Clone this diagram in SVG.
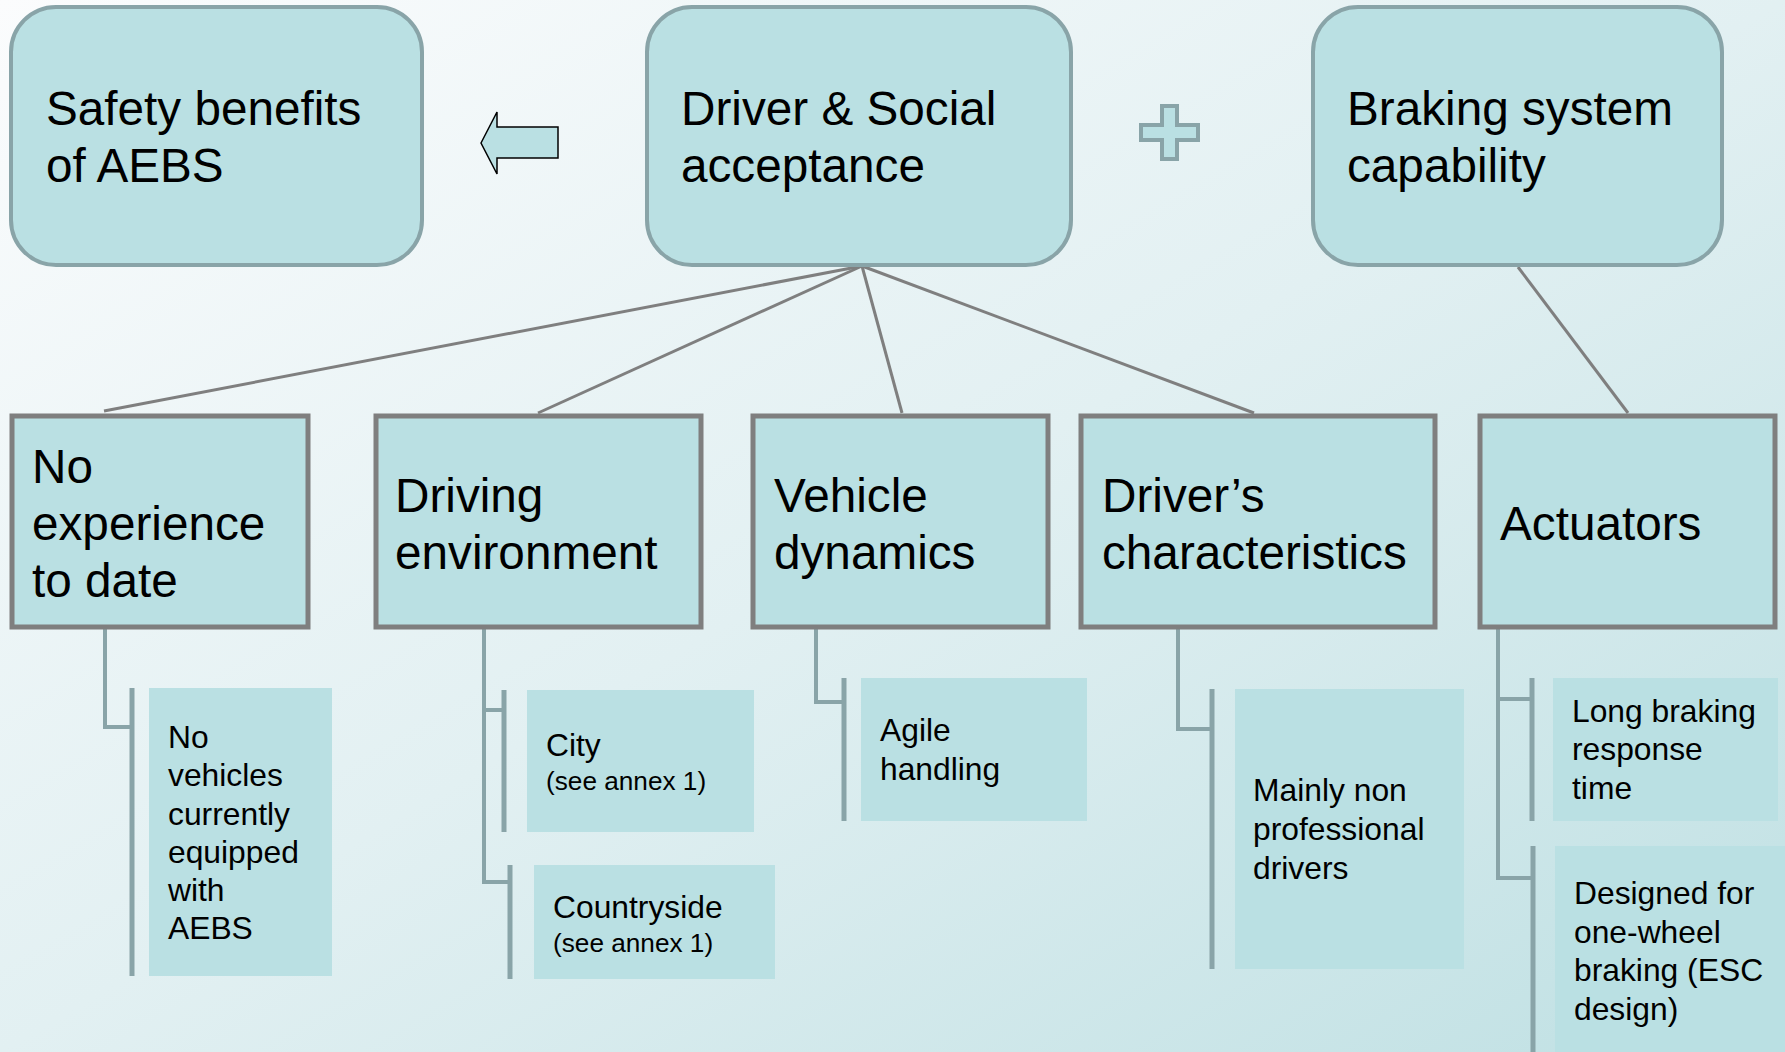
<svg xmlns="http://www.w3.org/2000/svg" width="1785" height="1052" viewBox="0 0 1785 1052">
<defs>
<linearGradient id="bg" x1="0" y1="0" x2="1" y2="1">
<stop offset="0" stop-color="#fbfcfd"/>
<stop offset="0.5" stop-color="#e2f0f2"/>
<stop offset="1" stop-color="#bfe0e3"/>
</linearGradient>
<style>
.rbox{fill:#bae0e3;stroke:#89a4a8;stroke-width:4}
.sbox{fill:#bae0e3;stroke:#7f7f7f;stroke-width:5}
.leaf{fill:#bae0e3}
.big{font-family:"Liberation Sans",Arial,sans-serif;font-size:47.7px;fill:#000}
.small{font-family:"Liberation Sans",Arial,sans-serif;font-size:31.8px;fill:#000}
.tiny{font-family:"Liberation Sans",Arial,sans-serif;font-size:26.2px;fill:#000}
.edge{stroke:#7f7f7f;stroke-width:3;fill:none}
.tree{stroke:#89a4a8;stroke-width:4;fill:none}
.brk{stroke:#89a4a8;stroke-width:5;fill:none}
</style>
</defs>
<rect x="0" y="0" width="1785" height="1052" fill="url(#bg)"/>

<g id="connectors">
<line class="edge" x1="862" y1="266" x2="104" y2="411"/>
<line class="edge" x1="862" y1="266" x2="538" y2="413"/>
<line class="edge" x1="862" y1="266" x2="902" y2="413"/>
<line class="edge" x1="862" y1="266" x2="1254" y2="413"/>
<line class="edge" x1="1518" y1="267" x2="1628" y2="413"/>
<polyline class="tree" points="105,629 105,727 132,727"/>
<polyline class="tree" points="484,629 484,882 510,882"/>
<line class="tree" x1="484" y1="710" x2="504" y2="710"/>
<polyline class="tree" points="816,629 816,702 844,702"/>
<polyline class="tree" points="1178,629 1178,729 1212,729"/>
<polyline class="tree" points="1498,629 1498,878 1533,878"/>
<line class="tree" x1="1498" y1="699" x2="1532" y2="699"/>
<line class="brk" x1="132" y1="688" x2="132" y2="976"/>
<line class="brk" x1="504" y1="690" x2="504" y2="832"/>
<line class="brk" x1="510" y1="865" x2="510" y2="979"/>
<line class="brk" x1="844" y1="678" x2="844" y2="821"/>
<line class="brk" x1="1212" y1="689" x2="1212" y2="969"/>
<line class="brk" x1="1532" y1="678" x2="1532" y2="821"/>
<line class="brk" x1="1533" y1="846" x2="1533" y2="1052"/>
</g>

<g id="safety">
<rect class="rbox" x="11" y="7" width="411" height="258" rx="45"/>
<text class="big" x="46" y="125">Safety benefits</text>
<text class="big" x="46" y="182">of AEBS</text>
</g>

<g id="arrow">
<polygon points="481,143 497,112 497,127 558,127 558,158 497,158 497,174" fill="#bae0e3" stroke="#000" stroke-width="1.5"/>
</g>

<g id="driver-social">
<rect class="rbox" x="647" y="7" width="424" height="258" rx="45"/>
<text class="big" x="681" y="125">Driver &amp; Social</text>
<text class="big" x="681" y="182">acceptance</text>
</g>

<g id="plus">
<polygon points="1162,106 1177,106 1177,125 1198,125 1198,140 1177,140 1177,159 1162,159 1162,140 1141,140 1141,125 1162,125" fill="#bae0e3" stroke="#89a4a8" stroke-width="4"/>
</g>

<g id="braking">
<rect class="rbox" x="1313" y="7" width="409" height="258" rx="45"/>
<text class="big" x="1347" y="125">Braking system</text>
<text class="big" x="1347" y="182">capability</text>
</g>

<g id="no-experience">
<rect class="sbox" x="12" y="416" width="296" height="211"/>
<text class="big" x="32" y="483">No</text>
<text class="big" x="32" y="540">experience</text>
<text class="big" x="32" y="597">to date</text>
</g>

<g id="driving-env">
<rect class="sbox" x="376" y="416" width="325" height="211"/>
<text class="big" x="395" y="512">Driving</text>
<text class="big" x="395" y="569">environment</text>
</g>

<g id="vehicle-dyn">
<rect class="sbox" x="753" y="416" width="295" height="211"/>
<text class="big" x="774" y="512">Vehicle</text>
<text class="big" x="774" y="569">dynamics</text>
</g>

<g id="drivers-char">
<rect class="sbox" x="1081" y="416" width="354" height="211"/>
<text class="big" x="1102" y="512">Driver’s</text>
<text class="big" x="1102" y="569">characteristics</text>
</g>

<g id="actuators">
<rect class="sbox" x="1480" y="416" width="295" height="211"/>
<text class="big" x="1500" y="540">Actuators</text>
</g>

<g id="no-vehicles">
<rect class="leaf" x="149" y="688" width="183" height="288"/>
<text class="small" x="168" y="748">No</text>
<text class="small" x="168" y="786">vehicles</text>
<text class="small" x="168" y="825">currently</text>
<text class="small" x="168" y="863">equipped</text>
<text class="small" x="168" y="901">with</text>
<text class="small" x="168" y="939">AEBS</text>
</g>

<g id="city">
<rect class="leaf" x="527" y="690" width="227" height="142"/>
<text class="small" x="546" y="756">City</text>
<text class="tiny" x="546" y="790">(see annex 1)</text>
</g>

<g id="countryside">
<rect class="leaf" x="534" y="865" width="241" height="114"/>
<text class="small" x="553" y="918">Countryside</text>
<text class="tiny" x="553" y="952">(see annex 1)</text>
</g>

<g id="agile">
<rect class="leaf" x="861" y="678" width="226" height="143"/>
<text class="small" x="880" y="741">Agile</text>
<text class="small" x="880" y="780">handling</text>
</g>

<g id="mainly">
<rect class="leaf" x="1235" y="689" width="229" height="280"/>
<text class="small" x="1253" y="801">Mainly non</text>
<text class="small" x="1253" y="840">professional</text>
<text class="small" x="1253" y="879">drivers</text>
</g>

<g id="long-braking">
<rect class="leaf" x="1553" y="678" width="225" height="143"/>
<text class="small" x="1572" y="722">Long braking</text>
<text class="small" x="1572" y="760">response</text>
<text class="small" x="1572" y="799">time</text>
</g>

<g id="designed">
<rect class="leaf" x="1555" y="846" width="230" height="206"/>
<text class="small" x="1574" y="904">Designed for</text>
<text class="small" x="1574" y="943">one-wheel</text>
<text class="small" x="1574" y="981">braking (ESC</text>
<text class="small" x="1574" y="1020">design)</text>
</g>
</svg>
